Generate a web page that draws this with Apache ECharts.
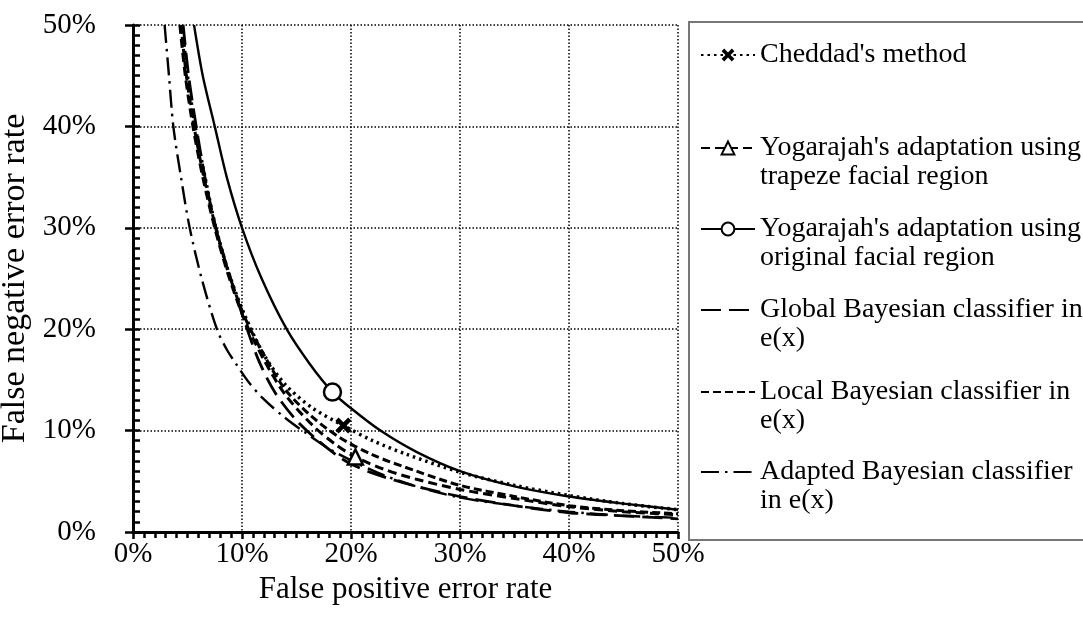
<!DOCTYPE html>
<html><head><meta charset="utf-8">
<script src="https://cdn.jsdelivr.net/npm/echarts@6/dist/echarts.min.js"></script>
<style>html,body{margin:0;padding:0;background:#fff}#c{width:1083px;height:624px}</style>
</head><body><div id="c"></div>
<script>
// Series data (percent units): FPR (x) and FNR (y)
const chedX = [4.5,5.0,5.7,6.6,7.6,8.8,10.2,12.0,14.0,16.5,19.3,22,25,30,35,40,45,50];
const chedY = [50,45,40,35,30,25.5,21.5,17.5,14.5,12.2,10.5,9.0,7.7,5.9,4.6,3.6,2.8,2.2];
const chedMark = 10;

const trapX = [4.3,4.8,5.5,6.4,7.5,8.7,10.2,12,14,16.5,18.5,20.4,23,26,30,35,40,45,50];
const trapY = [50,45,40,35,30,25.5,21,17,13.5,10.5,8.7,7.4,6.2,5.2,4.2,3.3,2.5,2.0,1.7];
const trapMark = 11;

const origX = [5.6,6.4,7.5,8.6,10,11.8,14.1,16.2,18.3,20,22.7,26,30,35,40,45,50];
const origY = [50,45,40,35,30,25,20,16.6,13.8,12.2,10,7.9,6.0,4.5,3.5,2.8,2.2];
const origMark = 8;

const globX = [4.6,5.1,5.8,6.6,7.6,8.8,10,11.5,13,15,17,19.5,22,26,30,35,40,45,50];
const globY = [50,45,40,35,30,25.5,21.5,17,13.8,11,9,7.0,5.8,4.5,3.5,2.6,1.9,1.6,1.3];

const locX = [4.4,4.9,5.6,6.5,7.6,8.8,10.2,12,14,16.5,19,22,26,30,35,40,45,50];
const locY = [50,45,40,35,30,25.5,21.3,17.5,14,11.3,9.3,7.6,6.0,4.6,3.5,2.6,2.1,1.8];

const adapX = [2.9,3.3,3.7,4.4,5.2,6.3,7.7,8.6,9.5,10.6,11.9,13.9,15.8,18,20.5,23,26,30,35,40,45,50];
const adapY = [50,45,40,35,30,25,20,18.0,16.5,14.8,13.2,11.3,9.8,8.2,6.8,5.6,4.5,3.4,2.6,2.0,1.6,1.4];

const names = [
  "Cheddad's method",
  "Yogarajah's adaptation using\ntrapeze facial region",
  "Yogarajah's adaptation using\noriginal facial region",
  "Global Bayesian classifier in\ne(x)",
  "Local Bayesian classifier in\ne(x)",
  "Adapted Bayesian classifier\nin e(x)"
];
const xTicks = [0,10,20,30,40,50];
const yTicks = [0,10,20,30,40,50];

const FONT = '"Liberation Serif","Times New Roman",serif';
const crossPath = 'path://M2,0 L5,3 L8,0 L10,2 L7,5 L10,8 L8,10 L5,7 L2,10 L0,8 L3,5 L0,2 Z';

function pts(xs, ys, mark) {
  return xs.map((x, i) => i === mark ? [x, ys[i]] : {value: [x, ys[i]], symbol: 'none'});
}

const chart = echarts.init(document.getElementById('c'), null, {renderer: 'canvas'});

const mkSeries = (name, xs, ys, mark, lineType, width, symbol, symbolSize, fill) => ({
  name: name, type: 'line', smooth: 0.3,
  data: pts(xs, ys, mark),
  symbol: symbol, symbolSize: symbolSize, showSymbol: true,
  lineStyle: {color: '#000', width: width, type: lineType, cap: 'butt'},
  itemStyle: {color: fill, borderColor: '#000', borderWidth: fill === '#000' ? 0 : 2.5},
  z: 3, animation: false
});

const series = [
  mkSeries(names[0], chedX, chedY, chedMark, [2.5, 4], 3.5, crossPath, 16, '#000'),
  mkSeries(names[1], trapX, trapY, trapMark, [9, 5], 3, 'triangle', 15, '#fff'),
  mkSeries(names[2], origX, origY, origMark, 'solid', 2.4, 'circle', 17, '#fff'),
  mkSeries(names[3], globX, globY, -1, [20, 8], 2.8, 'none', 0, '#000'),
  mkSeries(names[4], locX, locY, -1, [8, 4], 3, 'none', 0, '#000'),
  mkSeries(names[5], adapX, adapY, -1, [18, 6, 2.5, 6], 2.4, 'none', 0, '#000')
];

const iconCenters = [55, 148, 229, 310, 392, 472];
const hasMarker = [true, true, true, false, false, false];
const LH = 29;
const legends = names.map((n, i) => {
  const two = n.indexOf('\n') >= 0;
  const leg = {
    data: [n], left: 700, top: two ? iconCenters[i] - 1.5 * LH : iconCenters[i] - LH / 2,
    orient: 'vertical', padding: 0, itemWidth: 54, itemHeight: 16, selectedMode: false,
    formatter: name => name.indexOf('\n') >= 0 ? ' \n' + name : name,
    textStyle: {fontFamily: FONT, fontSize: 28, color: '#000', lineHeight: LH}
  };
  if (!hasMarker[i]) leg.itemStyle = {color: 'rgba(0,0,0,0)', borderWidth: 0, opacity: 0};
  return leg;
});

chart.setOption({
  animation: false,
  backgroundColor: '#fff',
  grid: {left: 133, right: 405, top: 25, bottom: 92, containLabel: false, outerBoundsMode: 'none'},
  legend: legends,
  graphic: [{
    type: 'rect', shape: {x: 689, y: 22, width: 400, height: 518},
    style: {fill: 'none', stroke: '#777', lineWidth: 2}, z: 0, silent: true
  }],
  xAxis: {
    type: 'value', min: 0, max: 50, interval: 10,
    name: 'False positive error rate', nameLocation: 'middle', nameGap: 42,
    nameTextStyle: {fontFamily: FONT, fontSize: 31, color: '#000'},
    axisLine: {show: true, onZero: false, lineStyle: {color: '#000', width: 3}},
    axisTick: {show: true, inside: false, length: 7, lineStyle: {color: '#000', width: 2.5}},
    minorTick: {show: true, splitNumber: 10, length: 6, lineStyle: {color: '#000', width: 2.5}},
    axisLabel: {fontFamily: FONT, fontSize: 29, color: '#000', margin: 8, formatter: v => xTicks.indexOf(v) >= 0 ? v + '%' : ''},
    splitLine: {show: true, lineStyle: {color: '#000', width: 1.5, type: [1.5, 2]}}
  },
  yAxis: [{
    type: 'value', min: 0, max: 50, interval: 10,
    name: 'False negative error rate', nameLocation: 'middle', nameGap: 84, nameRotate: 90,
    nameTextStyle: {fontFamily: FONT, fontSize: 34, color: '#000'},
    axisLine: {show: true, lineStyle: {color: '#000', width: 3}},
    axisTick: {show: true, inside: true, length: 7, lineStyle: {color: '#000', width: 2.5}},
    minorTick: {show: true, splitNumber: 10, length: 7, lineStyle: {color: '#000', width: 2.5}},
    axisLabel: {fontFamily: FONT, fontSize: 29, color: '#000', margin: 37, formatter: v => yTicks.indexOf(v) >= 0 ? v + '%' : ''},
    splitLine: {show: true, lineStyle: {color: '#000', width: 1.5, type: [1.5, 2]}}
  }, {
    type: 'value', min: 0, max: 50, interval: 10, position: 'left',
    axisLine: {show: false}, axisLabel: {show: false}, splitLine: {show: false},
    axisTick: {show: true, inside: false, length: 8, lineStyle: {color: '#000', width: 2.5}}
  }],
  series: series
});
</script></body></html>
